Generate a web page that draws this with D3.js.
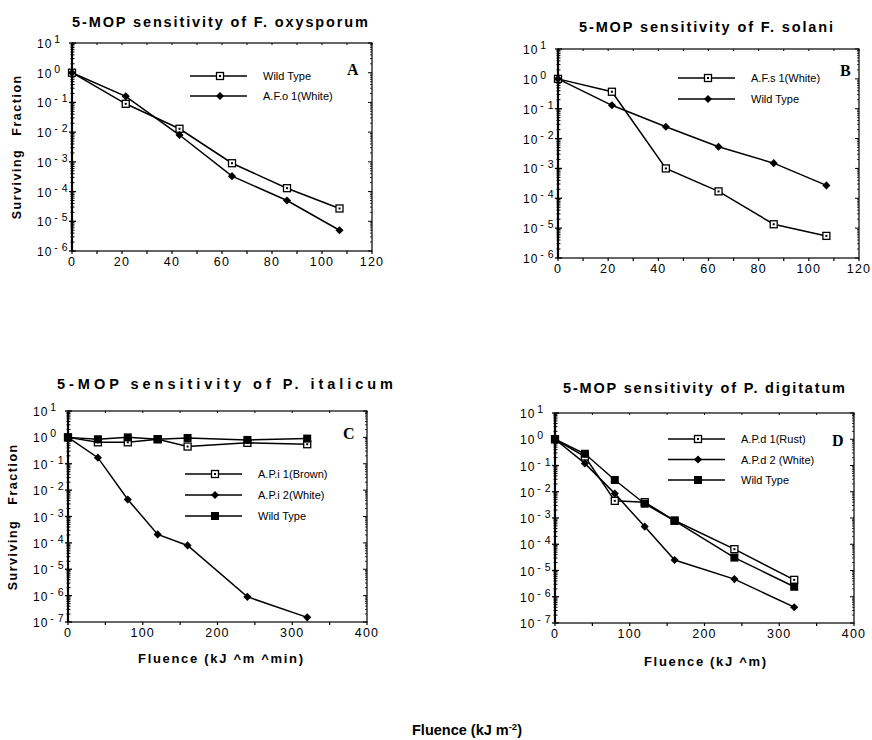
<!DOCTYPE html>
<html>
<head>
<meta charset="utf-8">
<script src="https://cdn.jsdelivr.net/npm/d3@7"></script>
<style>
  body { margin: 0; background: #fff; }
</style>
</head>
<body>
<div id="chart"></div>
<script>
// Fluence values (x)
const fluenceF = [0, 21.5, 43, 64, 86, 107];
const fluenceP = [0, 40, 80, 120, 160, 240, 320];

// A: F. oxysporum
const wildTypeFo = [1, 0.09, 0.013, 9e-4, 1.3e-4, 2.7e-5];
const afo1White = [1, 0.16, 0.008, 3.3e-4, 5e-5, 5e-6];

// B: F. solani
const afs1White = [1, 0.37, 1e-3, 1.7e-4, 1.35e-5, 5.5e-6];
const wildTypeFs = [1, 0.13, 0.025, 5.3e-3, 1.5e-3, 2.7e-4];

// C: P. italicum
const api1Brown = [1, 0.65, 0.65, 0.85, 0.45, 0.62, 0.55];
const api2White = [1, 0.17, 4.4e-3, 2.1e-4, 8e-5, 9e-7, 1.5e-7];
const wildTypePi = [1, 0.85, 1.0, 0.85, 0.95, 0.8, 0.9];

// D: P. digitatum
const apd1Rust = [1, 0.22, 4.5e-3, 4e-3, 8e-4, 6.5e-5, 4.4e-6];
const apd2White = [1, 0.12, 8.5e-3, 4.7e-4, 2.5e-5, 4.7e-6, 4e-7];
const wildTypePd = [1, 0.28, 0.028, 3.5e-3, 7.8e-4, 3.1e-5, 2.4e-6];

// Tick labels
const xTicksF = [0, 20, 40, 60, 80, 100, 120];
const xTicksP = [0, 100, 200, 300, 400];

const width = 872;
const height = 740;
const sans = '"Liberation Sans", Arial, Helvetica, sans-serif';

const svg = d3.select('#chart').append('svg')
  .attr('width', width)
  .attr('height', height)
  .attr('viewBox', [0, 0, width, height])
  .style('font-family', sans);

function drawMarker(g, type, cx, cy) {
  if (type === 'open') {
    g.append('rect').attr('x', cx - 3.5).attr('y', cy - 3.5).attr('width', 7).attr('height', 7)
      .attr('fill', '#fff').attr('stroke', '#000').attr('stroke-width', 1.3);
    g.append('rect').attr('x', cx - 1).attr('y', cy - 1).attr('width', 2).attr('height', 2).attr('fill', '#000');
  } else if (type === 'diamond') {
    g.append('path').attr('transform', `translate(${cx},${cy})`)
      .attr('d', d3.symbol(d3.symbolDiamond2, 42)()).attr('fill', '#000');
  } else {
    g.append('rect').attr('x', cx - 4).attr('y', cy - 4).attr('width', 8).attr('height', 8).attr('fill', '#000');
  }
}

function drawPanel(p) {
  const g = svg.append('g');
  const x = d3.scaleLinear().domain([0, p.xMax]).range([p.left, p.right]);
  const y = d3.scaleLog().domain([Math.pow(10, p.minExp), 10]).range([p.bottom, p.top]);

  // frame
  g.append('rect').attr('x', p.left).attr('y', p.top)
    .attr('width', p.right - p.left).attr('height', p.bottom - p.top)
    .attr('fill', 'none').attr('stroke', '#000').attr('stroke-width', 1.2);
  g.append('line').attr('x1', p.left).attr('x2', p.left).attr('y1', p.top).attr('y2', p.bottom)
    .attr('stroke', '#000').attr('stroke-width', 2.2);

  // x ticks (major + minor)
  const xMinor = d3.range(0, p.xMax + 0.001, p.xStep / 2);
  xMinor.forEach(v => {
    g.append('line').attr('x1', x(v)).attr('x2', x(v)).attr('y1', p.bottom).attr('y2', p.bottom + 3)
      .attr('stroke', '#000').attr('stroke-width', 1.2);
    g.append('line').attr('x1', x(v)).attr('x2', x(v)).attr('y1', p.top).attr('y2', p.top + 2)
      .attr('stroke', '#000').attr('stroke-width', 1);
  });
  g.selectAll('.xl').data(p.xTicks).join('text')
    .attr('x', d => x(d)).attr('y', p.bottom + 15)
    .attr('text-anchor', 'middle').attr('font-size', 12.5).attr('letter-spacing', 1.2)
    .text(d => d);

  // y ticks (log, with minor)
  const exps = d3.range(p.minExp, 2);
  exps.forEach(e => {
    const base = Math.pow(10, e);
    g.append('line').attr('x1', p.left - 3).attr('x2', p.left + 4).attr('y1', y(base)).attr('y2', y(base))
      .attr('stroke', '#000').attr('stroke-width', 1.3);
    g.append('line').attr('x1', p.right - 4).attr('x2', p.right).attr('y1', y(base)).attr('y2', y(base))
      .attr('stroke', '#000').attr('stroke-width', 1);
    if (e < 1) {
      d3.range(2, 10).forEach(k => {
        const v = base * k;
        g.append('line').attr('x1', p.left - 1.5).attr('x2', p.left + 2.5).attr('y1', y(v)).attr('y2', y(v))
          .attr('stroke', '#000').attr('stroke-width', 1);
        g.append('line').attr('x1', p.right - 2).attr('x2', p.right).attr('y1', y(v)).attr('y2', y(v))
          .attr('stroke', '#000').attr('stroke-width', 0.8);
      });
    }
    const t = g.append('text').attr('x', p.left - 35).attr('y', y(base) + 5)
      .attr('font-size', 12).attr('letter-spacing', 1);
    t.append('tspan').text('10');
    if (e < 0) {
      t.append('tspan').attr('dx', 2).attr('dy', -5).attr('font-size', 10.5).text('-');
      t.append('tspan').attr('dx', 3).attr('font-size', 10.5).text(Math.abs(e));
    } else {
      t.append('tspan').attr('dx', 2).attr('dy', -5).attr('font-size', 10.5).text(e);
    }
  });

  // series
  const line = d3.line().x(d => x(d[0])).y(d => y(d[1]));
  p.series.forEach(s => {
    const pts = p.xs.map((v, i) => [v, s.values[i]]);
    g.append('path').datum(pts).attr('d', line)
      .attr('fill', 'none').attr('stroke', '#000').attr('stroke-width', 1.5);
  });
  p.series.forEach(s => {
    p.xs.forEach((v, i) => drawMarker(g, s.marker, x(v), y(s.values[i])));
  });

  // legend
  p.series.forEach((s, i) => {
    const ly = p.legY + i * p.legGap;
    g.append('line').attr('x1', p.legX).attr('x2', p.legX + 57).attr('y1', ly).attr('y2', ly)
      .attr('stroke', '#000').attr('stroke-width', 1.3);
    drawMarker(g, s.marker, p.legX + 30, ly);
    g.append('text').attr('x', p.legX + 73).attr('y', ly + 4)
      .attr('font-size', 11).text(s.name);
  });

  // panel letter
  g.append('text').attr('x', p.letterX).attr('y', p.letterY)
    .attr('font-family', '"Liberation Serif", "Times New Roman", serif')
    .attr('font-weight', 'bold').attr('font-size', 16).text(p.letter);

  // title
  g.append('text').attr('x', p.titleX).attr('y', p.titleY)
    .attr('font-weight', 'bold').attr('font-size', 14.5)
    .attr('textLength', p.titleW).attr('lengthAdjust', 'spacing')
    .text(p.title);

  // y label
  if (p.yLab) {
    g.append('text').attr('transform', `translate(${p.yLab.x},${p.yLab.y1}) rotate(-90)`)
      .attr('font-weight', 'bold').attr('font-size', 12.5).attr('letter-spacing', 1.5)
      .attr('text-anchor', 'middle').text('Surviving');
    g.append('text').attr('transform', `translate(${p.yLab.x},${p.yLab.y2}) rotate(-90)`)
      .attr('font-weight', 'bold').attr('font-size', 12.5).attr('letter-spacing', 1.5)
      .attr('text-anchor', 'middle').text('Fraction');
  }

  // x label
  if (p.xLab) {
    g.append('text').attr('x', p.xLab.x).attr('y', p.xLab.y)
      .attr('font-weight', 'bold').attr('font-size', 13)
      .attr('textLength', p.xLab.w).attr('lengthAdjust', 'spacing')
      .text(p.xLab.text);
  }
}

drawPanel({
  left: 72, right: 372, top: 43, bottom: 251, xMax: 120, xStep: 20, minExp: -6,
  xTicks: xTicksF, xs: fluenceF,
  series: [
    { name: 'Wild Type', values: wildTypeFo, marker: 'open' },
    { name: 'A.F.o 1(White)', values: afo1White, marker: 'diamond' }
  ],
  legX: 190, legY: 76, legGap: 20,
  letter: 'A', letterX: 347, letterY: 75,
  title: '5-MOP sensitivity of F. oxysporum', titleX: 72, titleY: 27, titleW: 296,
  yLab: { x: 21, y1: 184, y2: 105 }
});

drawPanel({
  left: 558, right: 859, top: 49, bottom: 258, xMax: 120, xStep: 20, minExp: -6,
  xTicks: xTicksF, xs: fluenceF,
  series: [
    { name: 'A.F.s 1(White)', values: afs1White, marker: 'open' },
    { name: 'Wild Type', values: wildTypeFs, marker: 'diamond' }
  ],
  legX: 678, legY: 78, legGap: 21,
  letter: 'B', letterX: 840, letterY: 76,
  title: '5-MOP sensitivity of F. solani', titleX: 579, titleY: 32, titleW: 254
});

drawPanel({
  left: 68, right: 367, top: 411, bottom: 622, xMax: 400, xStep: 100, minExp: -7,
  xTicks: xTicksP, xs: fluenceP,
  series: [
    { name: 'A.P.i 1(Brown)', values: api1Brown, marker: 'open' },
    { name: 'A.P.i 2(White)', values: api2White, marker: 'diamond' },
    { name: 'Wild Type', values: wildTypePi, marker: 'filled' }
  ],
  legX: 185, legY: 474, legGap: 21,
  letter: 'C', letterX: 343, letterY: 439,
  title: '5-MOP sensitivity of P. italicum', titleX: 57, titleY: 389, titleW: 336,
  yLab: { x: 17, y1: 555, y2: 474 },
  xLab: { text: 'Fluence (kJ ^m ^min)', x: 138, y: 663, w: 165 }
});

drawPanel({
  left: 555, right: 854, top: 413, bottom: 623, xMax: 400, xStep: 100, minExp: -7,
  xTicks: xTicksP, xs: fluenceP,
  series: [
    { name: 'A.P.d 1(Rust)', values: apd1Rust, marker: 'open' },
    { name: 'A.P.d 2 (White)', values: apd2White, marker: 'diamond' },
    { name: 'Wild Type', values: wildTypePd, marker: 'filled' }
  ],
  legX: 668, legY: 439, legGap: 20.5,
  letter: 'D', letterX: 832, letterY: 446,
  title: '5-MOP sensitivity of P. digitatum', titleX: 563, titleY: 393, titleW: 282,
  xLab: { text: 'Fluence (kJ ^m)', x: 644, y: 666, w: 122 }
});

// overall axis label
const foot = svg.append('text').attr('x', 467).attr('y', 735)
  .attr('text-anchor', 'middle').attr('font-weight', 'bold').attr('font-size', 14.5);
foot.append('tspan').text('Fluence (kJ m');
foot.append('tspan').attr('dy', -5).attr('font-size', 9.5).text('-2');
foot.append('tspan').attr('dy', 5).text(')');
</script>
</body>
</html>
